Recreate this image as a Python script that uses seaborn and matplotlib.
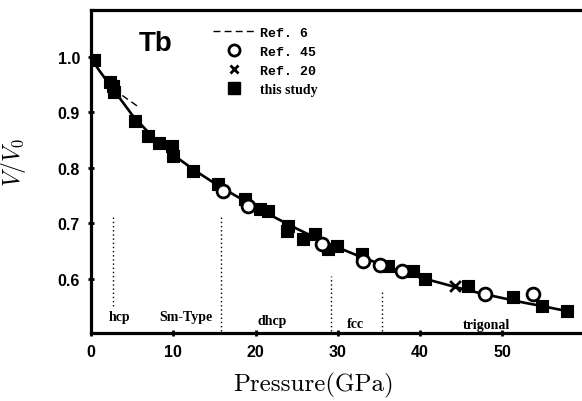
import numpy as np
import pandas as pd
import matplotlib
matplotlib.use("Agg")
import matplotlib.pyplot as plt
from matplotlib.lines import Line2D
import seaborn as sns

# Compression data for Tb: pressure (GPa) and relative volume V/V0
study_p = [0.4, 2.35, 2.7, 2.83, 5.4, 6.95, 8.3, 9.85, 10.0, 12.4, 15.45, 18.7,
           20.5, 21.5, 23.9, 23.8, 25.8, 27.2, 28.8, 29.9, 32.9, 36.1, 39.1,
           40.6, 45.8, 51.3, 54.8, 57.9]
study_v = [0.994, 0.955, 0.947, 0.937, 0.884, 0.857, 0.845, 0.839, 0.821, 0.793,
           0.771, 0.744, 0.726, 0.721, 0.695, 0.686, 0.672, 0.681, 0.654, 0.658,
           0.645, 0.622, 0.613, 0.600, 0.586, 0.566, 0.550, 0.542]

ref45_p = [16.05, 19.1, 28.1, 33.0, 35.1, 37.8, 47.9, 53.7]
ref45_v = [0.757, 0.731, 0.663, 0.631, 0.625, 0.613, 0.573, 0.573]

ref20_p = [44.2]
ref20_v = [0.587]

# Equation-of-state fit curve
fit_p = [0.0, 1.0, 2.5, 5.0, 7.5, 10.0, 12.5, 15.0, 17.5, 20.0, 22.5, 25.0, 27.5,
         30.0, 32.5, 35.0, 37.5, 40.0, 42.5, 45.0, 47.5, 50.0, 52.5, 55.0, 58.0]
fit_v = [0.997, 0.975, 0.945, 0.895, 0.855, 0.823, 0.796, 0.772, 0.750, 0.729,
         0.709, 0.690, 0.672, 0.656, 0.641, 0.627, 0.614, 0.602, 0.592, 0.582,
         0.573, 0.565, 0.557, 0.550, 0.541]

# Ref. 6 curve segment
ref6_p = [3.8, 6.0]
ref6_v = [0.930, 0.907]

# Phase boundaries and labels
bound_p = [2.7, 15.8, 29.15, 35.4]
bound_top = [0.713, 0.712, 0.605, 0.577]
bound_bottom = [0.550, 0.506, 0.505, 0.505]
phase_names = ["hcp", "Sm-Type", "dhcp", "fcc", "trigonal"]
phase_p = [3.4, 11.55, 22.0, 32.1, 48.0]
phase_v = [0.532, 0.532, 0.524, 0.519, 0.517]

x_ticks = [0, 10, 20, 30, 40, 50]
y_ticks = [0.6, 0.7, 0.8, 0.9, 1.0]

sns.set_style("ticks")
plt.rcParams.update({
    "mathtext.fontset": "cm",
    "text.color": "black",
    "axes.labelcolor": "black",
    "xtick.color": "black",
    "ytick.color": "black",
})

fig = plt.figure(figsize=(5.82, 4.02), dpi=100)
ax = fig.add_axes([91 / 582, 1 - 334 / 402, 1 - 91 / 582 - 0.001, (334 - 11) / 402])

fit = pd.DataFrame({"p": fit_p, "v": fit_v})
sns.lineplot(data=fit, x="p", y="v", ax=ax, color="black", lw=1.9, sort=True,
             zorder=2)
sns.lineplot(x=ref6_p, y=ref6_v, ax=ax, color="black", lw=1.0,
             linestyle=(0, (5, 3)), zorder=2)

sns.scatterplot(x=study_p, y=study_v, ax=ax, marker="s", s=80, color="black",
                edgecolor="black", linewidth=0.8, zorder=3)
sns.scatterplot(x=ref45_p, y=ref45_v, ax=ax, marker="o", s=85, color="white",
                edgecolor="black", linewidth=2.0, zorder=4)
sns.scatterplot(x=ref20_p, y=ref20_v, ax=ax, marker="x", s=60, color="black",
                linewidth=2.0, zorder=4)

ax.vlines(bound_p, bound_bottom, bound_top, colors="black", lw=1.0,
          linestyles=(0, (1, 2)))

for name, p, v in zip(phase_names, phase_p, phase_v):
    ax.text(p, v, name, ha="center", va="center", fontsize=10,
            fontweight="bold", family="Liberation Serif")

ax.text(5.8, 1.024, "Tb", ha="left", va="center", fontsize=20,
        fontweight="bold", family="Liberation Sans")

ax.set_xlim(0, 59.6)
ax.set_ylim(0.502, 1.084)
ax.set_xticks(x_ticks)
ax.set_yticks(y_ticks)
ax.set_xticklabels([str(t) for t in x_ticks])
ax.set_yticklabels([f"{t:.1f}" for t in y_ticks])
for lab in ax.get_xticklabels() + ax.get_yticklabels():
    lab.set_fontweight("bold")
    lab.set_family("Liberation Sans")
    lab.set_fontsize(11.5)
ax.tick_params(axis="both", direction="inout", length=4, width=2.0,
               color="black", pad=6)

for side in ["left", "bottom", "top"]:
    ax.spines[side].set_linewidth(2.3)
    ax.spines[side].set_color("black")
ax.spines["right"].set_visible(False)

ax.set_xlabel("Pressure(GPa)", family="cmr10", fontsize=18)
ax.xaxis.set_label_coords((313 - 91) / 490, -0.12)
ax.set_ylabel(r"$V/V_0$", fontsize=17)
ax.yaxis.set_label_coords(-0.128, 0.53)

handles = [
    Line2D([], [], color="black", lw=1.0, linestyle=(0, (5, 3))),
    Line2D([], [], marker="o", ls="", markersize=8, markerfacecolor="white",
           markeredgecolor="black", markeredgewidth=2.0),
    Line2D([], [], marker="x", ls="", markersize=6, color="black",
           markeredgewidth=2.0),
    Line2D([], [], marker="s", ls="", markersize=9, color="black"),
]
labels = ["Ref. 6", "Ref. 45", "Ref. 20", "this study"]
leg = ax.legend(handles, labels, loc="upper left",
                bbox_to_anchor=(0.232, 0.975), frameon=False,
                handlelength=3.0, handletextpad=0.35, labelspacing=0.45,
                borderaxespad=0.2)
for i, t in enumerate(leg.get_texts()):
    if i < 3:
        t.set_family("Liberation Mono")
        t.set_fontsize(9.5)
        t.set_fontweight("bold")
    else:
        t.set_family("Liberation Serif")
        t.set_fontsize(10)
        t.set_fontweight("bold")

fig.savefig("out.png", dpi=100)
